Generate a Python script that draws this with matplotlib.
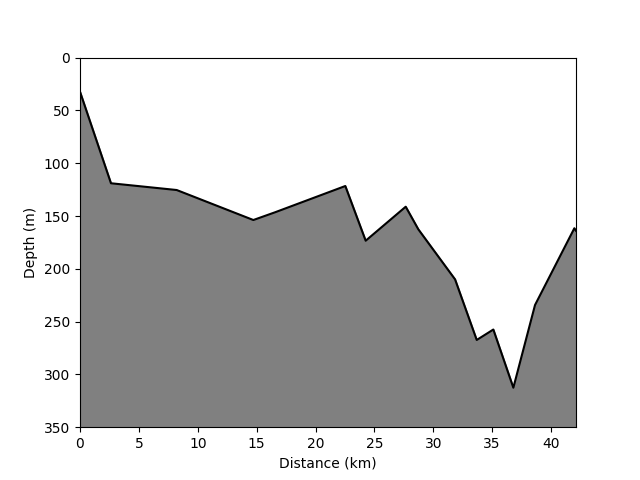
import matplotlib
matplotlib.use("Agg")
import matplotlib.pyplot as plt

distance_km = [0.0, 2.63, 8.21, 14.72, 16.56, 22.53, 24.26, 27.66, 28.73, 31.85, 33.69, 35.1, 36.8, 38.64, 41.98, 42.12]
depth_m = [32.3, 119.0, 125.4, 153.8, 146.5, 121.6, 173.4, 141.2, 162.6, 210.0, 267.4, 257.5, 312.6, 234.3, 161.6, 164.0]

fig, ax = plt.subplots(figsize=(6.4, 4.8), dpi=100)
ax.fill_between(distance_km, depth_m, 350, color="gray")
ax.plot(distance_km, depth_m, color="black")
ax.set_xlim(0, max(distance_km))
ax.set_ylim(350, 0)
ax.set_xlabel("Distance (km)")
ax.set_ylabel("Depth (m)")
fig.savefig("out.png")
